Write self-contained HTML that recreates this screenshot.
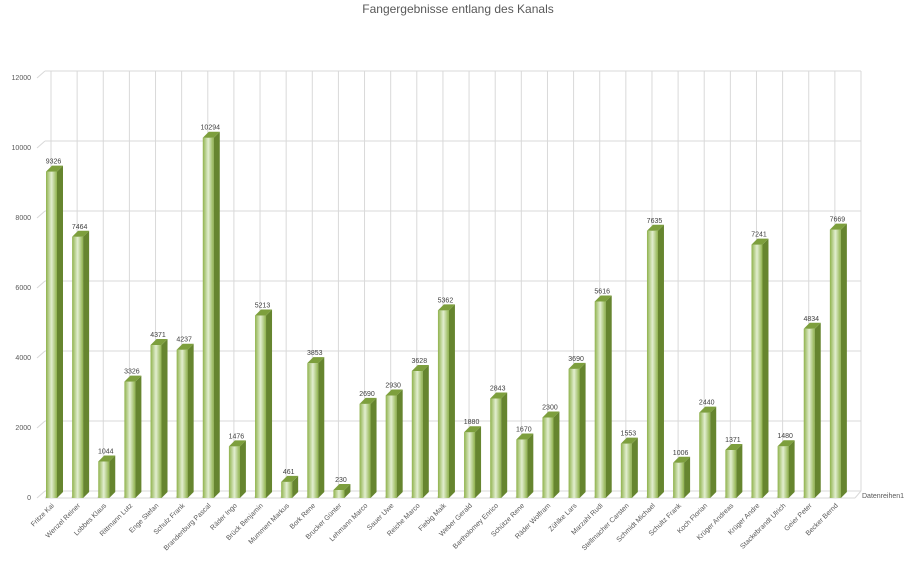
<!DOCTYPE html>
<html><head><meta charset="utf-8"><style>
html,body{margin:0;padding:0;background:#fff;}
svg{display:block;font-family:"Liberation Sans",sans-serif;}
</style></head><body>
<svg id="chart" width="915" height="564" viewBox="0 0 915 564">
<defs>
<linearGradient id="gf" x1="0" x2="1" y1="0" y2="0">
<stop offset="0" stop-color="#8fb24c"/><stop offset="0.5" stop-color="#e2eed0"/><stop offset="1" stop-color="#8fb24c"/>
</linearGradient>
</defs>
<text x="458" y="13" text-anchor="middle" font-size="12" fill="#595959">Fangergebnisse entlang des Kanals</text>
<g id="grid"></g><g id="bars"></g><g id="labels"></g>
<text x="862" y="498" font-size="7" fill="#595959">Datenreihen1</text>
</svg>
<script>
const categories=["Fritze Kai","Wenzel Reiner","Lobbes Klaus","Rittmann Lutz","Enge Stefan","Schulz Frank","Brandenburg Pascal","Räder Ingo","Brück Benjamin","Mummert Markus","Bork Rene","Brucker Günter","Lehmann Marco","Sauer Uwe","Reiche Marco","Fiebig Maik","Weber Gerald","Bartholomey Enrico","Schütze Rene","Räder Wolfram","Zühlke Lars","Marzahl Rudi","Stellmacher Carsten","Schmidt Michael","Schultz Frank","Koch Florian","Krüger Andreas","Krüger Andre","Stackebrandt Ulrich","Geier Peter","Becker Bernd"];
const values=[9326,7464,1044,3326,4371,4237,10294,1476,5213,461,3853,230,2690,2930,3628,5362,1880,2843,1670,2300,3690,5616,1553,7635,1006,2440,1371,7241,1480,4834,7669];
const yTicks=[0,2000,4000,6000,8000,10000,12000];
const yTickLabels=["0","2000","4000","6000","8000","10000","12000"];
const NS="http://www.w3.org/2000/svg";
const DX=6,DY=7,X0=45,X1=855,Y0=498,PXU=0.035;
const colW=(X1-X0)/categories.length;
function yScale(v){return Y0-v*PXU;}
function xCol(i){return X0+i*colW;}
function mk(tag,attrs,parent){const e=document.createElementNS(NS,tag);for(const k in attrs)e.setAttribute(k,attrs[k]);parent.appendChild(e);return e;}
const grid=document.getElementById('grid'),bars=document.getElementById('bars'),labels=document.getElementById('labels');
yTicks.forEach((t,k)=>{
  const y=yScale(t);
  const l=mk('line',{x1:X0,x2:X1+DX,y1:y-DY,y2:y-DY,stroke:'#d9d9d9','stroke-width':1},grid);
  
  
  const tk=mk('line',{x1:X0-8,y1:y,x2:X0,y2:y-DY,stroke:'#d9d9d9'},grid);
  
  
  const tx=mk('text',{x:X0-14,y:y+2,'text-anchor':'end','font-size':7,fill:'#595959'},grid);
  tx.textContent=yTickLabels[k];
  
  
});
for(let i=0;i<=categories.length;i++){
  const x=xCol(i)+DX;
  const l=mk('line',{x1:x,x2:x,y1:yScale(12000)-DY,y2:Y0-DY,stroke:'#d9d9d9'},grid);
  
  
  const f=mk('line',{x1:x-DX,y1:Y0,x2:x,y2:Y0-DY,stroke:'#d9d9d9'},grid);
  
  
}
const fl=mk('line',{x1:X0,x2:X1,y1:Y0,y2:Y0,stroke:'#d9d9d9'},grid);


values.forEach((v,i)=>{
  const bx=xCol(i)+1,bw=11,d=6,yt=yScale(v);
  const g=mk('g',{},bars);
  
  
  mk('rect',{x:bx,y:yt,width:bw,height:Y0-yt,fill:'url(#gf)'},g);
  mk('polygon',{points:`${bx+bw},${yt} ${bx+bw+d},${yt-d} ${bx+bw+d},${Y0-d} ${bx+bw},${Y0}`,fill:'#66852f'},g);
  mk('polygon',{points:`${bx},${yt} ${bx+d},${yt-d} ${bx+bw+d},${yt-d} ${bx+bw},${yt}`,fill:'#7d9f3d'},g);
  const vt=mk('text',{x:bx+bw/2+2,y:yt-8,'text-anchor':'middle','font-size':7,fill:'#404040'},labels);
  vt.textContent=values[i];
  
  
  const cx=bx+bw/2+3,cy=Y0+8;
  const ct=mk('text',{x:cx,y:cy,'text-anchor':'end','font-size':7,fill:'#595959',transform:`rotate(-45 ${cx} ${cy})`},labels);
  ct.textContent=categories[i];
  
  
});
</script>
</body></html>
